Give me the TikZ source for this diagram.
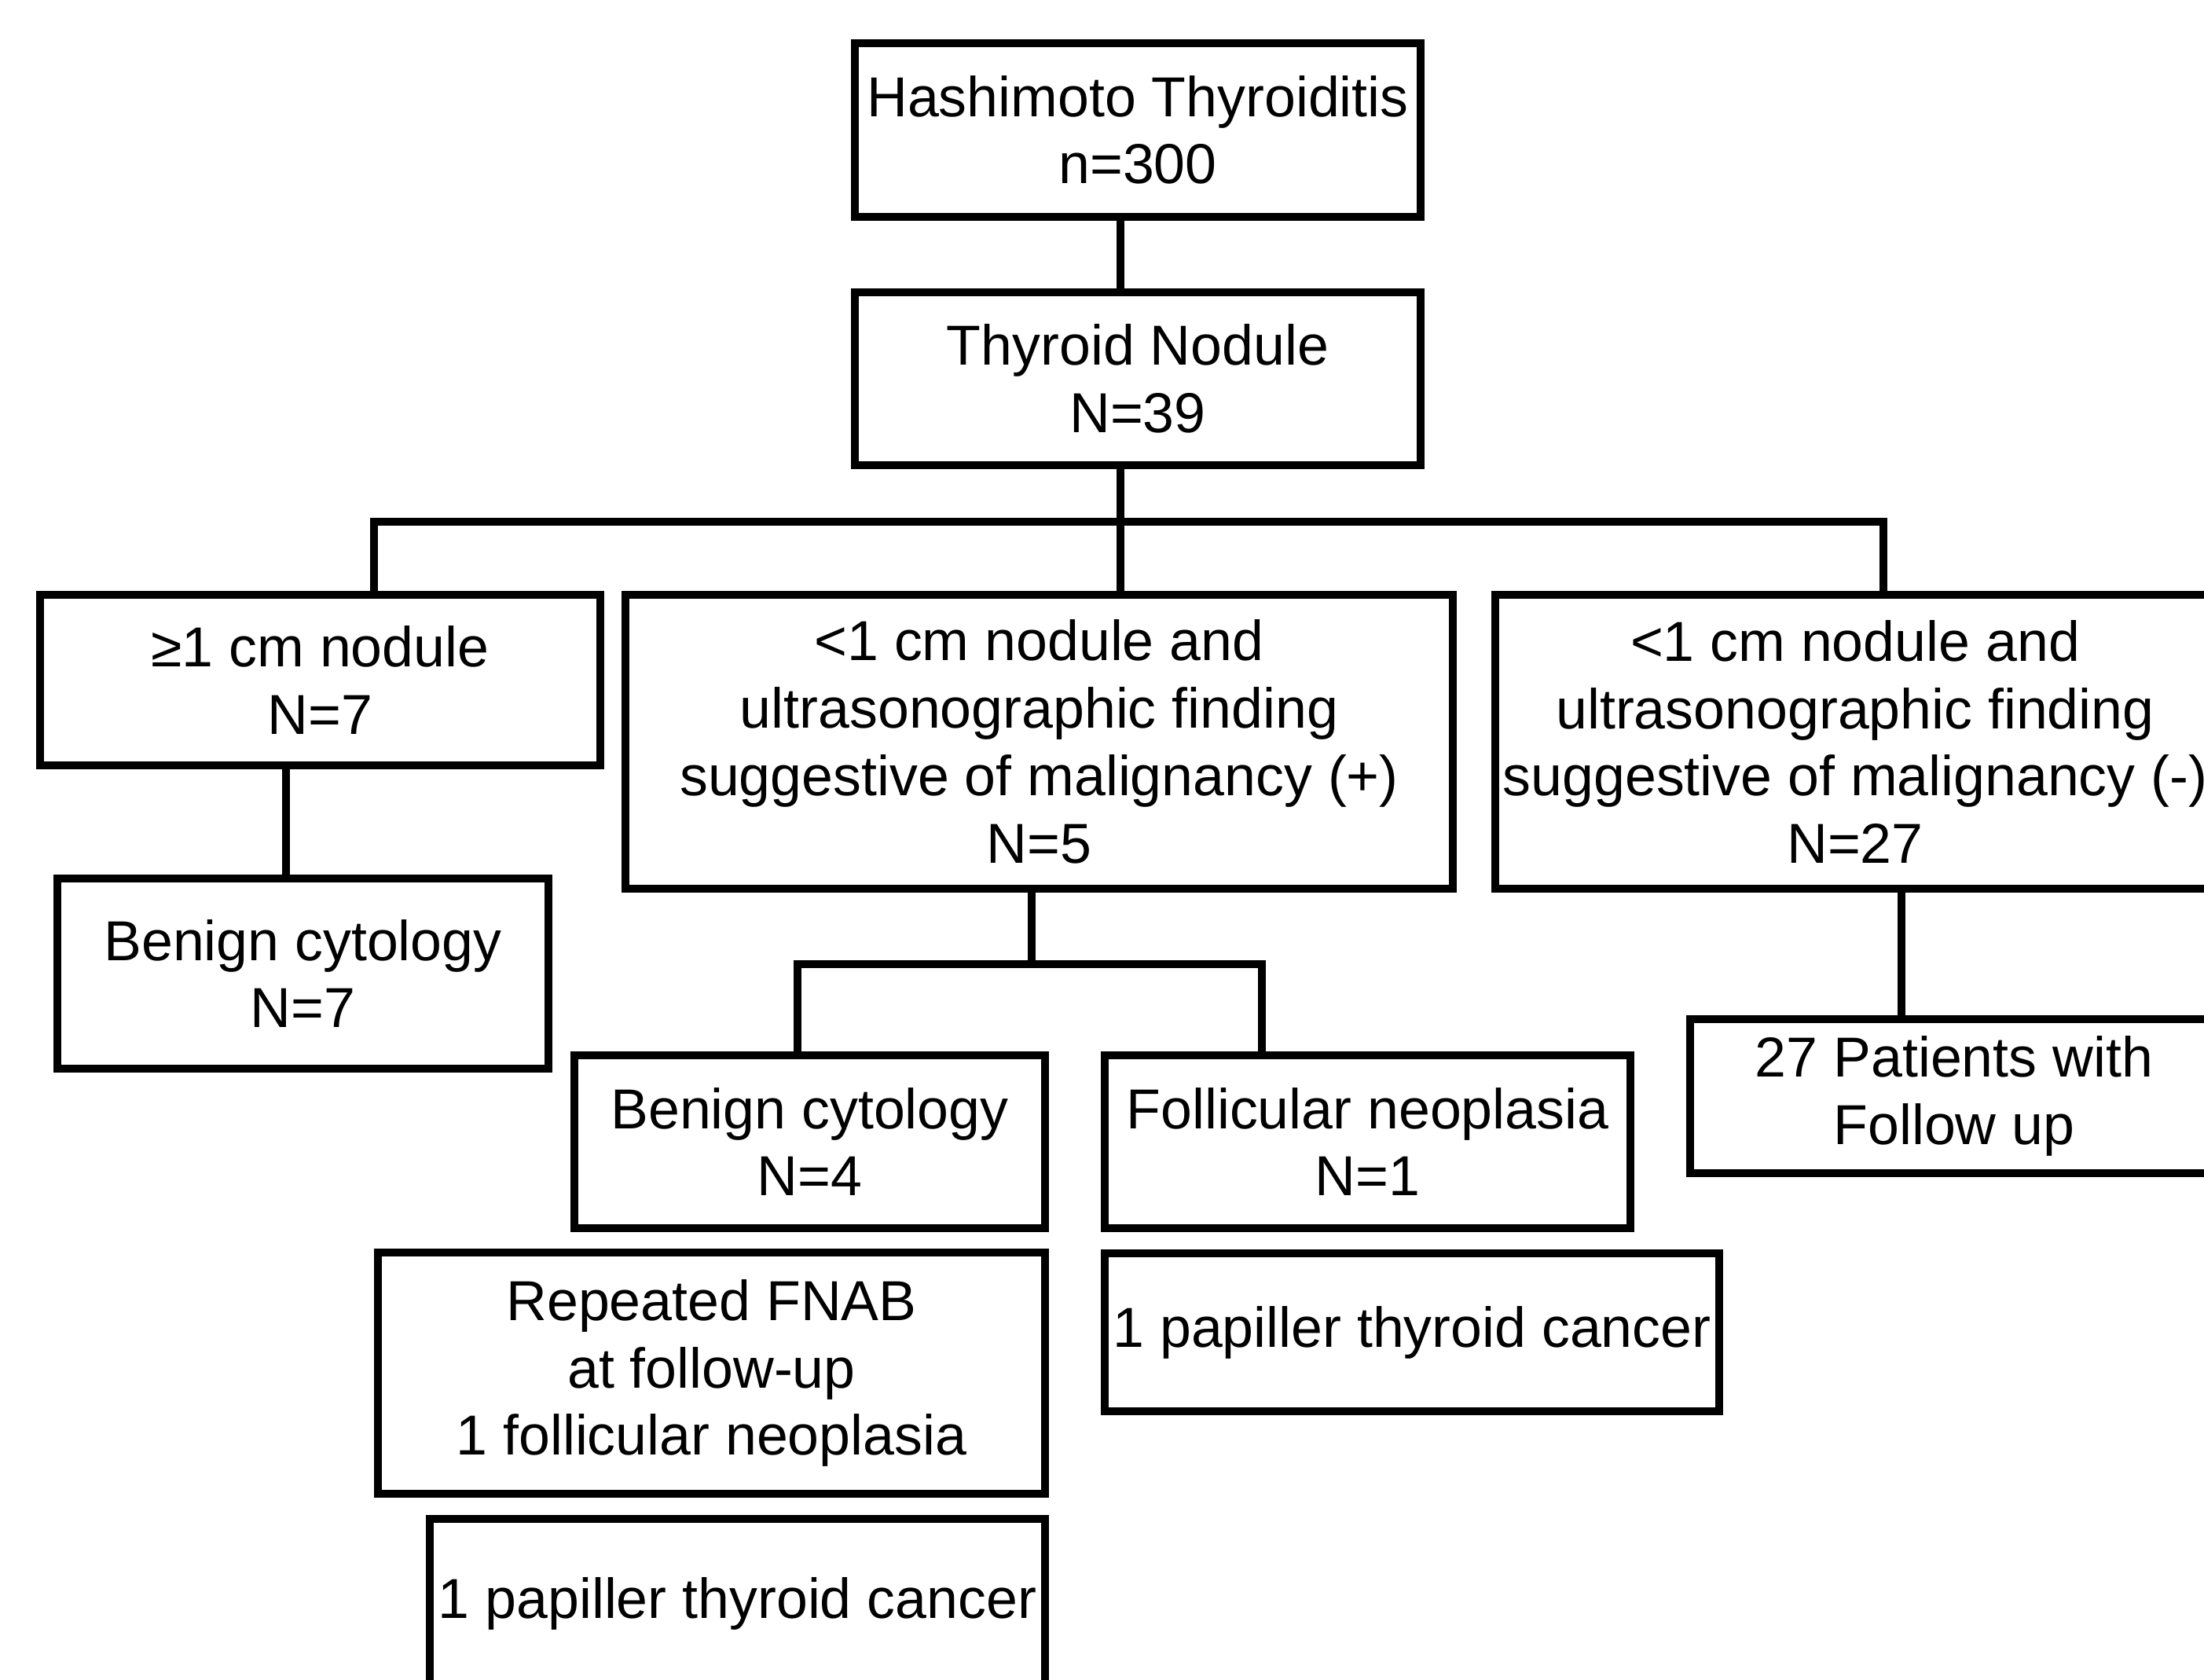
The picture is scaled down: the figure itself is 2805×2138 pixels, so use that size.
\documentclass[tikz,border=0pt]{standalone}
\usepackage{fontspec}
\setmainfont{Liberation Sans}

\begin{document}
\begin{tikzpicture}[
    x=0.1mm, y=-0.1mm,
    box/.style={draw, rectangle, line width=2.8pt, align=center, inner sep=0pt,
                font=\fontsize{20.4}{24.4}\selectfont},
    link/.style={line width=2.8pt}
  ]
    \useasboundingbox (0,0) rectangle (2805,2138);
    \fill[white] (0,0) rectangle (2805,2138);
    \clip (0,0) rectangle (2805,2138);

    \node[box, minimum width=72mm, minimum height=22.1mm] (hash) at (1448,165.5)
      {Hashimoto Thyroiditis\\n=300};
    \node[box, minimum width=72mm, minimum height=22mm] (nod) at (1448,482)
      {Thyroid Nodule\\N=39};
    \node[box, minimum width=71.3mm, minimum height=21.7mm] (big) at (407.5,865.5)
      {≥1 cm nodule\\N=7};
    \node[box, minimum width=62.5mm, minimum height=24.2mm] (bengA) at (385.5,1239)
      {Benign cytology\\N=7};
    \node[box, minimum width=105.3mm, minimum height=37.4mm] (pos) at (1322.5,944)
      {<1 cm nodule and\\ultrasonographic finding\\suggestive of malignancy (+)\\N=5};
    \node[box, minimum width=91.6mm, minimum height=37.4mm] (neg) at (2361,944)
      {<1 cm nodule and\\ultrasonographic finding\\suggestive of malignancy (-)\\N=27};
    \node[box, minimum width=67.2mm, minimum height=19.6mm] (fup) at (2487,1395)
      {27 Patients with\\Follow up};
    \node[box, minimum width=59.9mm, minimum height=22mm] (bengB) at (1030.5,1453)
      {Benign cytology\\N=4};
    \node[box, minimum width=66.9mm, minimum height=22mm] (foll) at (1740.5,1453)
      {Follicular neoplasia\\N=1};
    \node[box, minimum width=78.2mm, minimum height=20.1mm] (papA) at (1797,1695.5)
      {1 papiller thyroid cancer};
    \node[box, minimum width=84.9mm, minimum height=30.7mm] (fnab) at (905.5,1747.5)
      {Repeated FNAB\\at follow-up\\1 follicular neoplasia};
    \node[box, minimum width=78.3mm, minimum height=21.6mm] (papB) at (938.5,2041)
      {1 papiller thyroid cancer};

    \coordinate (trunk) at (1426,664);
    \coordinate (busL) at (476,664);
    \coordinate (busR) at (2397,664);
    \coordinate (split) at (1313,1227);
    \coordinate (splitL) at (1015,1227);
    \coordinate (splitR) at (1606,1227);
    \coordinate (leftdrop) at (364,0);
    \coordinate (rightdrop) at (2420,0);

    \draw[link] (hash.south -| trunk) -- (nod.north -| trunk);
    \draw[link] (nod.south -| trunk) -- (pos.north -| trunk);
    \draw[link] (big.north -| busL) -- (busL) -- (busR) -- (neg.north -| busR);
    \draw[link] (big.south -| leftdrop) -- (bengA.north -| leftdrop);
    \draw[link] (pos.south -| split) -- (split);
    \draw[link] (bengB.north -| splitL) -- (splitL) -- (splitR) -- (foll.north -| splitR);
    \draw[link] (neg.south -| rightdrop) -- (fup.north -| rightdrop);
  \end{tikzpicture}
\end{document}
